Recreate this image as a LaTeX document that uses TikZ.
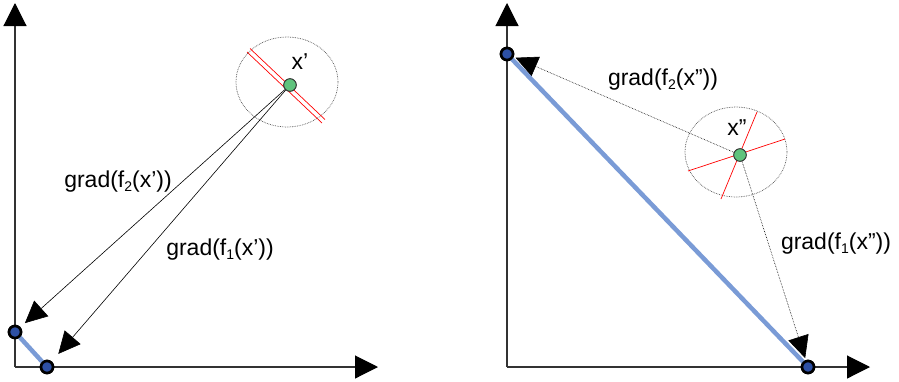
\documentclass[tikz,border=0pt]{standalone}
\usepackage{fontspec}
\setmainfont{Liberation Sans}
\usetikzlibrary{arrows.meta}
\definecolor{bluel}{RGB}{122,155,214}
\definecolor{blued}{RGB}{45,80,165}
\definecolor{greenp}{RGB}{95,195,125}
\newcommand{\lowsub}[1]{\raisebox{-0.32ex}{\fontsize{14}{14}\selectfont #1}}
\begin{document}
\begin{tikzpicture}[x=1pt,y=-1pt,
  axis/.style={draw=black!80, line width=1.1pt, -{Triangle[length=23pt,width=23pt,color=black]}},
  gradarrow/.style={draw=black, line width=0.6pt, -{Triangle[length=22pt,width=21pt]}},
  gradarrowd/.style={gradarrow, densely dotted},
  feas/.style={draw=bluel, line width=4.5pt},
  enddot/.style={circle, draw=black, line width=2.6pt, fill=blued, inner sep=0pt, minimum size=12pt},
  xdot/.style={circle, draw=black!80, line width=0.8pt, fill=greenp, inner sep=0pt, minimum size=12.5pt},
  nbhd/.style={draw=black!70, line width=0.7pt, densely dotted},
  redline/.style={draw=red, line width=0.7pt},
  lbl/.style={font=\fontsize{23}{26}\selectfont, inner sep=0pt}
]
\useasboundingbox (0,0) rectangle (899,381);
% ---------- left panel ----------
\coordinate (LO) at (15,367);
\coordinate (LY) at (15,3);
\coordinate (LX) at (378,367);
\draw[axis] (LO) -- (LY);
\draw[axis] (LO) -- (LX);
\draw[nbhd] (287,82) ellipse [x radius=51, y radius=45];
\draw[redline] (247,52) -- (322,123);
\draw[redline] (250,48.5) -- (325,119.5);
\node[xdot] (xa) at (290,85) {};
\node[enddot] (la) at (15,332) {};
\node[enddot] (lb) at (47,367) {};
\draw[gradarrow, shorten >=6pt] (xa.center) -- (la);
\draw[gradarrow, shorten >=10pt] (xa.center) -- (lb);
\draw[feas] (la.center) -- (lb.center);
\node[enddot] at (la) {};
\node[enddot] at (lb) {};
\node[xdot] at (xa) {};
\node[lbl] (xal) at (300,62) {x’};
\node[lbl] (ga2) at (118,182) {grad(f\lowsub{2}(x’))};
\node[lbl] (ga1) at (220,250) {grad(f\lowsub{1}(x’))};
% ---------- right panel ----------
\coordinate (RO) at (507,367);
\coordinate (RY) at (507,3);
\coordinate (RX) at (870,367);
\draw[axis] (RO) -- (RY);
\draw[axis] (RO) -- (RX);
\draw[nbhd] (736,152) ellipse [x radius=51, y radius=45];
\draw[redline] (688,171) -- (785,139);
\draw[redline] (757,112) -- (721,199);
\node[xdot] (xb) at (740,155) {};
\node[enddot] (ra) at (507,54) {};
\node[enddot] (rb) at (808,367) {};
\draw[gradarrowd, shorten >=2pt] (xb.center) -- (ra);
\draw[gradarrowd, shorten >=2pt] (xb.center) -- (rb);
\draw[feas] (ra.center) -- (rb.center);
\node[enddot] at (ra) {};
\node[enddot] at (rb) {};
\node[xdot] at (xb) {};
\node[lbl] (xbl) at (737,128) {x”};
\node[lbl] (gb2) at (663,80) {grad(f\lowsub{2}(x”))};
\node[lbl] (gb1) at (836,244) {grad(f\lowsub{1}(x”))};
\end{tikzpicture}
\end{document}
